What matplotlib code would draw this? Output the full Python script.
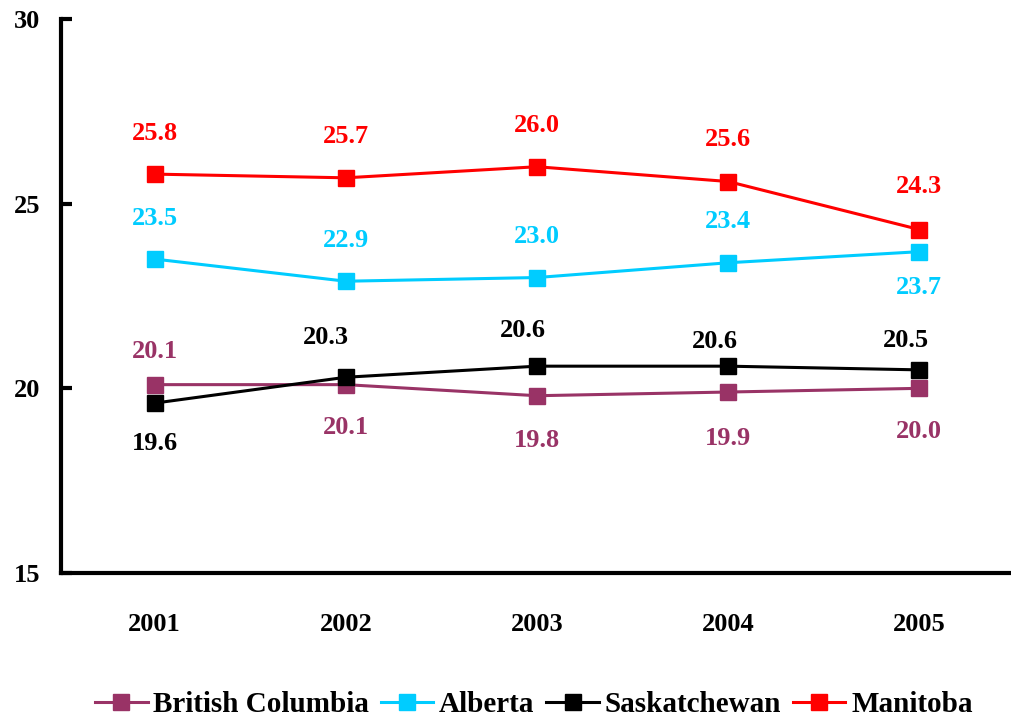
import matplotlib
matplotlib.use("Agg")
import matplotlib.pyplot as plt

years = ["2001", "2002", "2003", "2004", "2005"]
british_columbia = [20.1, 20.1, 19.8, 19.9, 20.0]
alberta = [23.5, 22.9, 23.0, 23.4, 23.7]
saskatchewan = [19.6, 20.3, 20.6, 20.6, 20.5]
manitoba = [25.8, 25.7, 26.0, 25.6, 24.3]

# label placement (pixel offsets from each point: dx, dy up)
bc_dy = [35, -41, -43, -44, -41]
ab_dy = [43, 43, 43, 43, -34]
sk_dy = [-38, 42, 38, 27, 31]
mb_dy = [43, 43, 43, 44, 45]
sk_dx = [0, -20, -14, -13, -13]
zero_dx = [0, 0, 0, 0, 0]

series = [
    ("British Columbia", british_columbia, "#993366", zero_dx, bc_dy),
    ("Alberta", alberta, "#00CCFF", zero_dx, ab_dy),
    ("Saskatchewan", saskatchewan, "#000000", sk_dx, sk_dy),
    ("Manitoba", manitoba, "#FF0000", zero_dx, mb_dy),
]

plt.rcParams['font.family'] = ['Liberation Serif', 'DejaVu Serif']
plt.rcParams['font.weight'] = 'bold'

FS = 19

fig = plt.figure(figsize=(10.11, 7.21), dpi=100)
ax = fig.add_axes([61/1011, 1 - 573/721, 1 - 61/1011, (573 - 19)/721])

x = list(range(len(years)))
for name, vals, color, dxs, dys in series:
    ax.plot(x, vals, color=color, lw=2.2, marker="s", markersize=11, label=name,
            solid_joinstyle="miter")
    for xi, v, dx, dy in zip(x, vals, dxs, dys):
        ax.annotate(f"{v:.1f}", (xi, v), xytext=(dx, dy - 2), textcoords="offset pixels",
                    ha="center", va="center", color=color, fontsize=FS, fontweight="bold")

ax.set_ylim(15, 30)
ax.set_xlim(-0.49, 4.48)
ax.set_yticks([15, 20, 25, 30])
ax.set_xticks(x)
ax.set_xticklabels(years)
for s in ["top", "right"]:
    ax.spines[s].set_visible(False)
for s in ["left", "bottom"]:
    ax.spines[s].set_linewidth(3)
ax.tick_params(axis="y", direction="in", length=8, width=3, labelsize=FS, pad=15)
ax.tick_params(axis="x", length=0, labelsize=FS, pad=29)
for lab in ax.get_xticklabels() + ax.get_yticklabels():
    lab.set_fontweight("bold")

fig.legend(loc="center", bbox_to_anchor=(0.528, 1 - 705/721), ncol=4,
           frameon=False, handlelength=1.8, columnspacing=0.4,
           handletextpad=0.2, prop={'weight': 'bold', 'size': 21})

fig.savefig("out.png", dpi=100)
